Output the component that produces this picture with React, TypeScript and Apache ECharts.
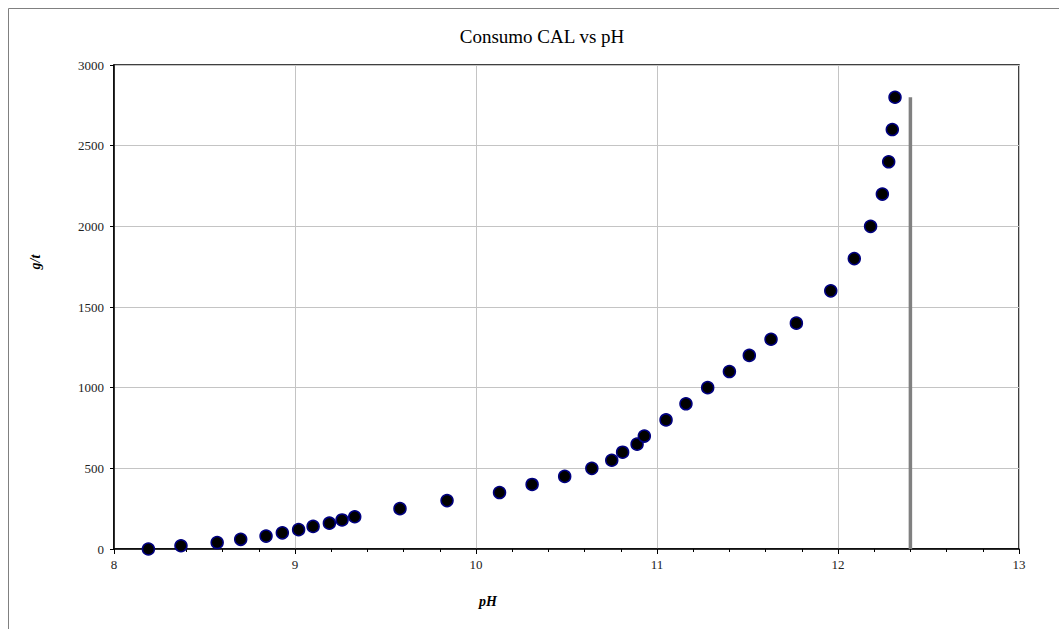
import React, { useEffect, useRef } from "react";
import * as echarts from "echarts";

const phValues = [8.19, 8.37, 8.57, 8.7, 8.84, 8.93, 9.02, 9.1, 9.19, 9.26, 9.33, 9.58, 9.84, 10.13, 10.31, 10.49, 10.64, 10.75, 10.81, 10.89, 10.93, 11.05, 11.16, 11.28, 11.4, 11.51, 11.63, 11.77, 11.96, 12.09, 12.18, 12.245, 12.28, 12.3, 12.315];
const gtValues = [0, 20, 40, 60, 80, 100, 120, 140, 160, 180, 200, 250, 300, 350, 400, 450, 500, 550, 600, 650, 700, 800, 900, 1000, 1100, 1200, 1300, 1400, 1600, 1800, 2000, 2200, 2400, 2600, 2800];
const limitLine = [[12.4, 0], [12.4, 2800]];

const FONT = "'Liberation Serif', 'Times New Roman', serif";

export default function App() {
  const ref = useRef<HTMLDivElement>(null);
  useEffect(() => {
    if (!ref.current) return;
    const chart = echarts.init(ref.current, undefined, { renderer: "svg" });
    const points = phValues.map((p, i) => [p, gtValues[i]]);
    chart.setOption({
      animation: false,
      backgroundColor: "#ffffff",
      title: {
        text: "Consumo CAL vs pH",
        left: 537,
        textAlign: "center",
        top: 22,
        textStyle: { fontFamily: FONT, fontSize: 19, fontWeight: "normal", color: "#000" },
      },
      graphic: [
        {
          type: "rect",
          shape: { x: 8.5, y: 8.5, width: 1100, height: 700 },
          style: { fill: "none", stroke: "#808080", lineWidth: 1 },
          silent: true,
        },
        {
          type: "text",
          x: 35,
          y: 262,
          rotation: Math.PI / 2,
          style: {
            text: "g/t",
            fontFamily: FONT,
            fontSize: 14,
            fontWeight: "bold",
            fontStyle: "italic",
            fill: "#000",
            align: "center",
            verticalAlign: "middle",
          },
        },
        {
          type: "text",
          x: 488,
          y: 601,
          style: {
            text: "pH",
            fontFamily: FONT,
            fontSize: 14,
            fontWeight: "bold",
            fontStyle: "italic",
            fill: "#000",
            align: "center",
            verticalAlign: "middle",
          },
        },
      ],
      grid: { left: 114, right: 40, top: 65, bottom: 80, show: true, borderColor: "#000", borderWidth: 1.5, backgroundColor: "transparent" },
      xAxis: {
        type: "value",
        min: 8,
        max: 13,
        interval: 1,
        axisLine: { show: true, onZero: false, lineStyle: { color: "#000", width: 1.5 } },
        axisTick: { show: true, length: 5, lineStyle: { color: "#000" } },
        minorTick: { show: true, splitNumber: 5, length: 3, lineStyle: { color: "#000" } },
        splitLine: { show: true, lineStyle: { color: "#c4c4c4", width: 1 } },
        axisLabel: { fontFamily: FONT, fontSize: 13, color: "#222", margin: 9 },
      },
      yAxis: {
        type: "value",
        min: 0,
        max: 3000,
        interval: 500,
        axisLine: { show: true, onZero: false, lineStyle: { color: "#000", width: 1.5 } },
        axisTick: { show: true, length: 4, lineStyle: { color: "#000" } },
        splitLine: { show: true, lineStyle: { color: "#c4c4c4", width: 1 } },
        axisLabel: { fontFamily: FONT, fontSize: 13, color: "#222", margin: 10, formatter: (v: number) => String(v) },
      },
      series: [
        {
          type: "line",
          data: limitLine,
          symbol: "none",
          lineStyle: { color: "#808080", width: 3.5 },
          z: 1,
        },
        {
          type: "scatter",
          data: points,
          symbol: "circle",
          symbolSize: 12,
          itemStyle: { color: "#000000", borderColor: "#000080", borderWidth: 1.5, opacity: 1 },
          z: 3,
        },
      ],
    });
    return () => chart.dispose();
  }, []);
  return <div ref={ref} style={{ position: "absolute", left: 0, top: 0, width: 1059, height: 629 }} />;
}
